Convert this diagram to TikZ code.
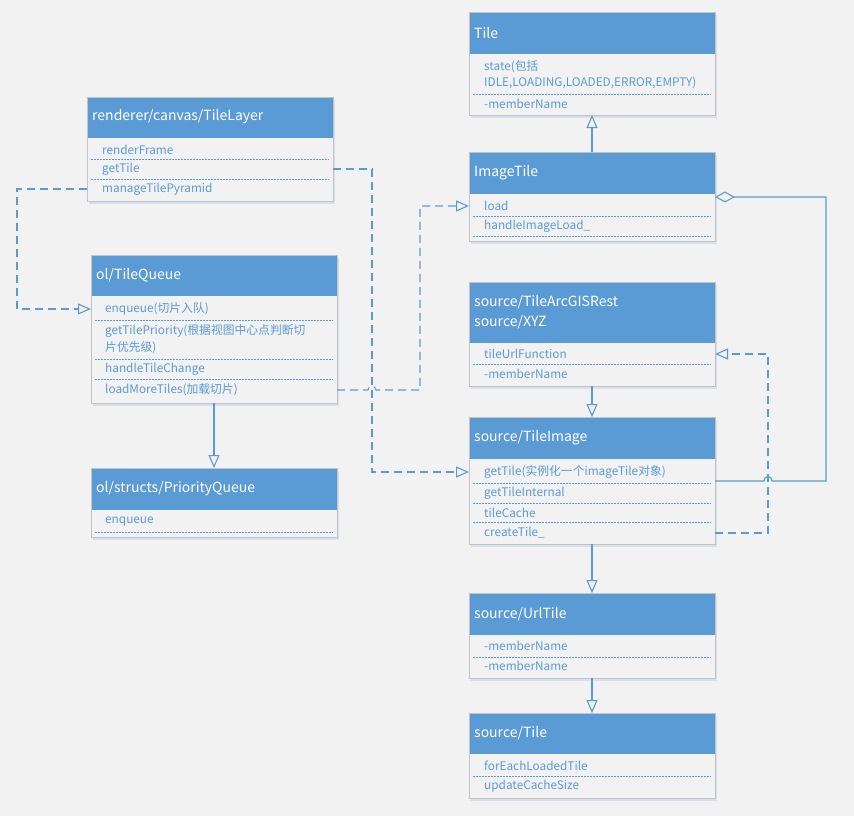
\documentclass[tikz,border=0pt]{standalone}
\usepackage{fontspec}
\setmainfont{Noto Sans CJK SC}
\usetikzlibrary{arrows.meta}
\definecolor{hdr}{HTML}{5B9BD5}
\definecolor{bg}{HTML}{F2F2F2}
\definecolor{bordc}{HTML}{C3C3C3}
\definecolor{txtc}{HTML}{5B9BD5}
\definecolor{shadc}{HTML}{D5E0EC}
\tikzset{
  boxst/.style={inner sep=0pt, outer sep=0pt, fill=bg, draw=none},
  border/.style={draw=bordc, line width=0.9pt},
  titlet/.style={anchor=west, inner sep=0pt, text=white, font=\fontsize{14}{16}\selectfont},
  rowt/.style={anchor=west, inner sep=0pt, text=txtc, font=\fontsize{11.8}{14}\selectfont},
  sepl/.style={draw=hdr, line width=0.6pt, dash pattern=on 2pt off 1pt},
  inh/.style={draw=hdr, line width=1.1pt, -{Triangle[open, length=13pt, width=11pt]}},
  dep/.style={draw=hdr, line width=1.1pt, dash pattern=on 8pt off 5pt, -{Triangle[open, length=13pt, width=11pt]}},
  agg/.style={draw=hdr, line width=1.1pt, -{Diamond[open, length=20pt, width=11pt]}},
}
\newcommand\umlbox[6]{%
  \fill[shadc] (#2+2,#3+3) rectangle ++(#4,#5);
  \node[boxst, minimum width=#4pt, minimum height=#5pt, anchor=north west] (#1) at (#2,#3) {};
  \fill[hdr] (#1.north west) rectangle ([yshift=-#6pt]#1.north east);
  \draw[border] (#1.north west) rectangle (#1.south east);
}
\newcommand\sepat[3]{\draw[sepl] (#1+4,#3) -- (#2-4,#3);}
\begin{document}
\begin{tikzpicture}[x=1pt, y=-1pt]
\fill[bg] (0,0) rectangle (854,816);
\useasboundingbox (0,0) rectangle (854,816);

% Tile
\umlbox{tile}{469}{12}{246}{103}{42}
\node[titlet] (tile-t) at (474,33) {Tile};
\node[rowt] (tile-r1) at (484,67) {state(包括};
\node[rowt] (tile-r1b) at (484,83) {IDLE,LOADING,LOADED,ERROR,EMPTY)};
\sepat{469}{715}{94}
\node[rowt] (tile-r2) at (484,104) {-memberName};

% ImageTile
\umlbox{imagetile}{469}{152}{246}{89}{42}
\node[titlet] (imagetile-t) at (474,173) {ImageTile};
\node[rowt] (imagetile-load) at (484,206) {load};
\sepat{469}{715}{216}
\node[rowt] (imagetile-r2) at (484,226) {handleImageLoad\_};
\sepat{469}{715}{236}
\coordinate (imagetile-agg) at (715,197);

% TileLayer
\umlbox{tilelayer}{87}{97}{246}{104}{41}
\node[titlet] (tilelayer-t) at (92,117) {renderer/canvas/TileLayer};
\node[rowt] (tilelayer-r1) at (102,150) {renderFrame};
\sepat{87}{333}{159}
\node[rowt] (tilelayer-get) at (102,169) {getTile};
\sepat{87}{333}{179}
\node[rowt] (tilelayer-manage) at (102,189) {manageTilePyramid};

% TileQueue
\umlbox{tilequeue}{91}{255}{246}{148}{41}
\node[titlet] (tilequeue-t) at (96,275) {ol/TileQueue};
\node[rowt] (tilequeue-enq) at (105,309) {enqueue(切片入队)};
\sepat{91}{337}{320}
\node[rowt] (tilequeue-r2) at (105,331) {getTilePriority(根据视图中心点判断切};
\node[rowt] (tilequeue-r2b) at (105,348) {片优先级)};
\sepat{91}{337}{359}
\node[rowt] (tilequeue-r3) at (105,369) {handleTileChange};
\sepat{91}{337}{379}
\node[rowt] (tilequeue-load) at (105,390) {loadMoreTiles(加载切片)};

% PriorityQueue
\umlbox{pqueue}{91}{468}{246}{69}{42}
\node[titlet] (pqueue-t) at (96,489) {ol/structs/PriorityQueue};
\node[rowt] (pqueue-r1) at (105,522) {enqueue};
\sepat{91}{337}{532}

% ArcGIS / XYZ
\umlbox{arcgis}{469}{282}{246}{104}{61}
\node[titlet] (arcgis-t1) at (474,302) {source/TileArcGISRest};
\node[titlet] (arcgis-t2) at (474,322) {source/XYZ};
\node[rowt] (arcgis-url) at (484,354) {tileUrlFunction};
\sepat{469}{715}{364}
\node[rowt] (arcgis-r2) at (484,374) {-memberName};

% TileImage
\umlbox{tileimage}{469}{417}{246}{127}{42}
\node[titlet] (tileimage-t) at (474,438) {source/TileImage};
\node[rowt] (tileimage-get) at (484,472) {getTile(实例化一个imageTile对象)};
\sepat{469}{715}{483}
\node[rowt] (tileimage-r2) at (484,493) {getTileInternal};
\sepat{469}{715}{503}
\node[rowt] (tileimage-r3) at (484,513) {tileCache};
\sepat{469}{715}{522}
\node[rowt] (tileimage-create) at (484,533) {createTile\_};
\coordinate (tileimage-agg) at (715,481);

% UrlTile
\umlbox{urltile}{469}{593}{246}{85}{42}
\node[titlet] (urltile-t) at (474,614) {source/UrlTile};
\node[rowt] (urltile-r1) at (484,646) {-memberName};
\sepat{469}{715}{657}
\node[rowt] (urltile-r2) at (484,666) {-memberName};

% source/Tile
\umlbox{stile}{469}{713}{246}{85}{41}
\node[titlet] (stile-t) at (474,733) {source/Tile};
\node[rowt] (stile-r1) at (484,766) {forEachLoadedTile};
\sepat{469}{715}{776}
\node[rowt] (stile-r2) at (484,786) {updateCacheSize};

% inheritance
\draw[inh] (imagetile.north) -- (tile.south);
\draw[inh] (tilequeue.south) -- (pqueue.north);
\draw[inh] (arcgis.south) -- (tileimage.north);
\draw[inh] (tileimage.south) -- (urltile.north);
\draw[inh] (urltile.south) -- (stile.north);

% bend points
\coordinate (b1) at (17,189);
\coordinate (b2) at (17,309);
\coordinate (c1) at (372,169);
\coordinate (c2) at (372,472);
\coordinate (d1) at (420,390);
\coordinate (d2) at (420,206);
\coordinate (e1) at (768,533);
\coordinate (e2) at (768,354);
\coordinate (f1) at (826,481);
\coordinate (f2) at (826,197);

% dependencies
\draw[dep] (tilelayer.west |- tilelayer-manage) -- (b1) -- (b2) -- (tilequeue.west |- tilequeue-enq);
\draw[dep] (tilelayer.east |- tilelayer-get) -- (c1) -- (c2) -- (tileimage.west |- tileimage-get);
\draw[dep] (tilequeue.east |- tilequeue-load) -- (368,390) .. controls (368,385) and (376,385) .. (376,390) -- (d1) -- (d2) -- (imagetile.west |- imagetile-load);
\draw[dep] (tileimage.east |- tileimage-create) -- (e1) -- (e2) -- (arcgis.east |- arcgis-url);

% aggregation
\draw[agg] (tileimage-agg) -- (764,481) .. controls (764,475) and (772,475) .. (772,481) -- (f1) -- (f2) -- (imagetile-agg);
\end{tikzpicture}
\end{document}
